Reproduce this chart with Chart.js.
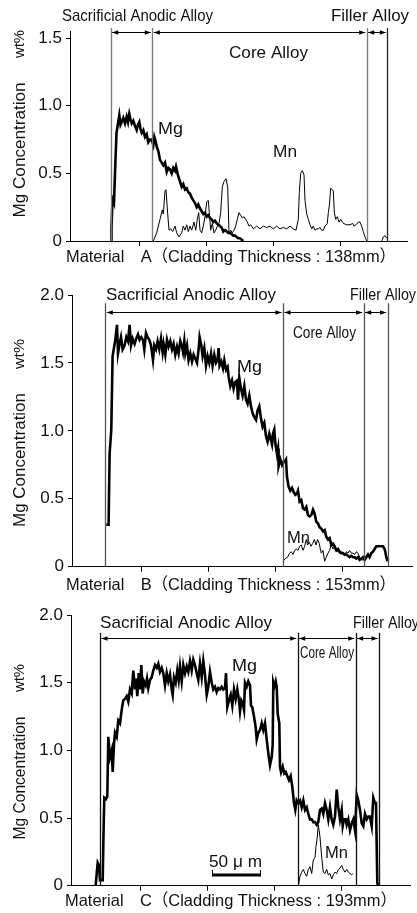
<!DOCTYPE html>
<html>
<head>
<meta charset="utf-8">
<script src="https://cdn.jsdelivr.net/npm/chart.js@4.4.0/dist/chart.umd.min.js"></script>
<style>
  body { margin: 0; background: #fff; width: 417px; height: 913px; overflow: hidden; position: relative; }
  canvas { position: absolute; left: 0; }
</style>
</head>
<body>
<canvas id="chartA" width="417" height="272" style="top:0px"></canvas>
<canvas id="chartB" width="417" height="326" style="top:272px"></canvas>
<canvas id="chartC" width="417" height="323" style="top:590px"></canvas>
<script>
// tick values
const yTicksA = [0, 0.5, 1.0, 1.5];
const yTicksBC = [0, 0.5, 1.0, 1.5, 2.0];
const xTicks = [69, 136, 203, 270];

// layer boundaries (x, um from surface axis)
const boundsA = [40.7, 82.3, 296.7, 317.3];
const boundsB = [33.3, 211, 291.6, 315.6];
const boundsC = [29, 226.7, 284.7, 308];

// Material A profiles [x, wt%]
const mgA = [[41,0],[41.5,0.10],[42.5,0.31],[44,0.28],[45,0.50],[46.5,0.80],[48,0.87],[49.3,0.93],[50.5,0.86],[51.7,0.88],
  [53.3,0.91],[55,0.87],[56.7,0.92],[58,0.88],[59.3,0.94],[60.5,0.90],[61.7,0.87],[63.3,0.89],[65,0.85],[66.7,0.82],
  [68,0.86],[69.3,0.88],[70.5,0.83],[71.7,0.80],[73.3,0.82],[75,0.77],[76.7,0.79],[78.3,0.73],[80,0.75],[81.7,0.75],
  [83.3,0.71],[84.3,0.77],[85.5,0.74],[86.7,0.70],[88.5,0.66],[90,0.60],[91.7,0.58],[93.3,0.56],[95,0.58],[96.7,0.51],
  [98.3,0.54],[100,0.53],[101.7,0.50],[103.3,0.54],[105,0.52],[106,0.55],[107.5,0.50],[108.3,0.48],[110,0.44],[111.7,0.40],
  [113.3,0.42],[115,0.38],[116.7,0.39],[118.3,0.36],[120,0.35],[121.7,0.32],[123.3,0.30],[125,0.28],[126.7,0.25],[128.3,0.27],
  [130,0.24],[131.7,0.22],[133.3,0.20],[135,0.21],[136.7,0.18],[138.3,0.19],[140,0.17],[141.7,0.16],[143.3,0.14],[145,0.15],
  [146.7,0.13],[148.3,0.12],[150,0.11],[151.7,0.10],[153.3,0.07],[155,0.08],[156.7,0.07],[158.3,0.06],[160,0.06],[161.7,0.05],
  [163.3,0.04],[165,0.04],[166.7,0.03],[168.3,0.02],[170,0.02],[171.7,0.01],[173.3,0]];
const mnA = [[83.3,0],[86.7,0.06],[90,0.16],[92.3,0.23],[93.3,0.20],[95,0.37],[96,0.38],[97.7,0.20],[99,0.08],[100.7,0.09],
  [102.7,0.07],[105,0.11],[106.7,0.06],[109,0.03],[111.7,0.06],[113.3,0.11],[115,0.08],[116.7,0.12],[118.3,0.07],[120,0.11],
  [121.7,0.08],[124,0.14],[125.7,0.08],[127.3,0.16],[128.7,0.21],[130,0.08],[131.7,0.06],[133.3,0.11],[135,0.18],[136.7,0.29],
  [138.3,0.30],[139.3,0.21],[140.7,0.08],[142.3,0.13],[144,0.06],[145.7,0.08],[147.3,0.11],[149,0.13],[150.7,0.21],[152.3,0.40],
  [154,0.44],[156,0.46],[157.7,0.40],[159,0.06],[160.7,0.08],[162.3,0.06],[164,0.08],[165.7,0.11],[167.3,0.16],[169,0.21],
  [170.7,0.19],[172.3,0.17],[174,0.18],[175.7,0.16],[177.3,0.14],[179,0.11],[180.7,0.12],[183.3,0.09],[186.7,0.11],[190,0.09],
  [193.3,0.11],[196.7,0.10],[200,0.11],[203.3,0.09],[206.7,0.11],[210,0.09],[213.3,0.10],[216.7,0.09],[220,0.11],[223.3,0.09],
  [226,0.08],[228.3,0.16],[229.3,0.36],[230.7,0.50],[232.3,0.52],[234,0.49],[235,0.30],[236.7,0.20],[238.3,0.16],[240,0.12],
  [241.7,0.09],[243.3,0.11],[245,0.08],[246.7,0.09],[248.3,0.09],[250,0.10],[251.7,0.08],[253.3,0.08],[255,0.11],[257.3,0.13],
  [258.3,0.21],[259.3,0.26],[260.7,0.39],[262.3,0.38],[263.3,0.37],[264.3,0.21],[265.7,0.16],[267.3,0.18],[269,0.14],[270.7,0.16],
  [273.3,0.13],[276.7,0.12],[280,0.12],[282.7,0.13],[284,0.11],[286,0.12],[288.3,0.14],[290,0.14],[291.7,0.11],[293.3,0.07],
  [295,0.03],[296.7,0],[304,null],[311.7,0],[313.3,0.03],[315,0.04],[316.7,0.02]];

// Material B profiles
const mgB = [[34.3,0.31],[36.6,0.31],[37.6,0.83],[39.3,1.01],[40.6,1.55],[43.3,1.67],[45,1.78],[46,1.57],[47.6,1.64],[49,1.69],
  [50.6,1.60],[52.6,1.63],[54.3,1.69],[56,1.66],[57.6,1.78],[59,1.63],[60.6,1.68],[62.6,1.64],[64.3,1.68],[66,1.71],
  [67.6,1.67],[69.3,1.69],[71,1.67],[72.3,1.60],[74,1.72],[75.6,1.69],[77.3,1.67],[79,1.63],[81,1.52],[82.3,1.63],
  [84,1.60],[85.6,1.66],[87.3,1.60],[89,1.68],[90.6,1.58],[91.6,1.64],[93.3,1.56],[95,1.67],[96.6,1.62],[98.3,1.66],
  [100,1.60],[101.6,1.64],[103.3,1.56],[105,1.62],[106.6,1.57],[108.3,1.66],[110,1.62],[111,1.58],[112.3,1.66],[113.3,1.57],
  [115,1.63],[116.6,1.52],[118.3,1.57],[120,1.51],[121.6,1.56],[123.3,1.53],[125,1.50],[126.6,1.60],[127.6,1.69],[129.3,1.63],
  [130.6,1.55],[132.3,1.61],[134,1.48],[135.6,1.55],[137.3,1.50],[139,1.57],[140.6,1.48],[142.3,1.56],[144,1.50],[145.6,1.52],
  [146.6,1.61],[147.6,1.48],[149.3,1.51],[151,1.46],[152.3,1.52],[154,1.45],[155.6,1.47],[156.6,1.40],[158.3,1.33],[160,1.37],
  [161.6,1.31],[163.3,1.36],[165,1.37],[166,1.23],[167.3,1.39],[169,1.31],[170.6,1.26],[172.3,1.33],[174,1.23],[175.6,1.20],
  [177.3,1.26],[179,1.18],[180.6,1.13],[182.3,1.10],[184,1.08],[185.6,1.15],[187.3,1.18],[189,1.09],[190.6,1.03],[192.3,1.06],
  [194,0.96],[195.6,0.92],[197.3,0.98],[199,0.93],[200,0.90],[201,0.98],[202.3,1.01],[203.3,0.91],[205,0.83],[206,0.87],
  [206.6,0.74],[208.3,0.79],[210,0.75],[211,0.77],[212.3,0.77],[214,0.79],[215,0.66],[216.6,0.59],[218.3,0.56],[220,0.58],
  [221.6,0.55],[223.3,0.53],[225,0.54],[226,0.56],[227.6,0.48],[229.3,0.49],[231,0.43],[232.6,0.42],[234.3,0.44],[236,0.38],
  [237.6,0.37],[239.3,0.38],[241,0.42],[242.6,0.39],[244.3,0.33],[246,0.32],[247.6,0.29],[249.3,0.28],[251,0.26],[252.6,0.27],
  [254.3,0.22],[256,0.20],[257.6,0.21],[259.3,0.16],[261,0.17],[262.6,0.15],[264.3,0.12],[266,0.13],[267.6,0.11],[269.3,0.10],
  [271,0.10],[272.6,0.09],[274.3,0.09],[276,0.08],[277.6,0.07],[279.3,0.08],[281,0.07],[282.6,0.07],[284.3,0.06],[286,0.07],
  [287.6,0.05],[289.3,0.06],[291,0.07],[292.6,0.05],[294.3,0.07],[296,0.09],[297.6,0.07],[299.3,0.10],[301,0.11],[302.6,0.13],
  [304.3,0.15],[306,0.15],[307.6,0.15],[309.3,0.15],[311,0.15],[312.6,0.13],[313.3,0.11],[314.3,0.07],[315.6,0.04]];
const mnB = [[211,0.04],[213.3,0.06],[215.6,0.07],[217.6,0.10],[219.3,0.11],[221,0.09],[222.6,0.12],[224.3,0.13],[226,0.12],[227.6,0.15],
  [229.3,0.16],[231,0.12],[232.6,0.15],[234.3,0.20],[235.6,0.16],[237.3,0.18],[239,0.15],[240.6,0.17],[242.3,0.20],[244,0.16],
  [245.6,0.20],[247.3,0.17],[248.3,0.13],[249.3,0.10],[251,0.12],[252.6,0.04],[254.3,0.07],[256,0.10],[257.6,0.12],[259.3,0.16],
  [261,0.13],[262.6,0.15],[264.3,0.12],[266,0.11],[267.6,0.10],[269.3,0.11],[271,0.09],[272.6,0.08],[274.3,0.11],[276,0.10],
  [277.6,0.12],[279.3,0.10],[281,0.10],[282.6,0.09],[284.3,0.11],[286,0.10],[287.6,0.07],[289.3,0.05],[291,0.05]];

// Material C profiles
const mgC = [[24.7,0],[25.7,0.09],[26.7,0.17],[28,0.15],[29,0.04],[30,0.04],[31.7,0.04],[32.7,0.46],[33.3,0.65],[35,0.64],
  [36.3,0.66],[37.3,1.10],[39,0.95],[40.7,1.00],[41.7,0.84],[43,1.05],[44,1.13],[45.7,1.10],[47.3,1.22],[49,1.20],
  [50.7,1.30],[52.3,1.37],[54,1.38],[55.7,1.40],[57.3,1.36],[59,1.45],[60.7,1.42],[62.3,1.59],[64,1.45],[65,1.53],
  [66.3,1.40],[67.7,1.57],[69,1.45],[70.3,1.63],[71.7,1.42],[73,1.51],[74.7,1.48],[76,1.53],[77.3,1.46],[79,1.52],
  [80.7,1.54],[82.3,1.59],[84,1.63],[85.7,1.61],[87.3,1.64],[89,1.58],[90.7,1.61],[92.3,1.57],[94,1.48],[95.7,1.57],
  [97.3,1.51],[99,1.56],[100.7,1.45],[101.7,1.41],[103,1.54],[104.7,1.50],[106.3,1.59],[107.7,1.52],[109,1.62],[110.7,1.51],
  [112.3,1.63],[114,1.57],[115.7,1.62],[117.3,1.58],[119,1.66],[120.7,1.59],[122.3,1.67],[124,1.63],[125.7,1.57],[127.3,1.52],
  [129,1.64],[130.7,1.54],[132.3,1.66],[134,1.56],[135.7,1.41],[137.3,1.47],[139,1.58],[140.7,1.50],[142.3,1.45],[144,1.47],
  [145.7,1.43],[147.3,1.46],[149,1.45],[150.7,1.47],[152.3,1.45],[154,1.46],[155,1.57],[156.3,1.32],[158,1.37],[159.7,1.41],
  [161.3,1.33],[163,1.45],[164.7,1.38],[166.3,1.45],[168,1.37],[169,1.29],[170.3,1.37],[171.7,1.35],[173,1.30],[174,1.50],
  [175.7,1.47],[177.3,1.51],[179,1.48],[180,1.33],[181.3,1.32],[183,1.25],[184.7,1.17],[185.7,1.08],[187.3,1.13],[189,1.15],
  [190.7,1.20],[192.3,1.15],[194,1.20],[195.7,1.08],[197.3,0.98],[199,0.89],[200.7,0.95],[201.7,1.04],[202.3,1.50],[203.3,1.47],
  [204.7,1.51],[205.7,1.47],[206.7,1.27],[208.3,1.20],[209,0.88],[210,0.84],[211.7,0.88],[213.3,0.83],[214.7,0.84],[216.3,0.81],
  [218,0.78],[219.7,0.81],[221.3,0.73],[223,0.61],[224.3,0.56],[225.7,0.63],[227.3,0.61],[229,0.63],[230.7,0.58],[232.3,0.63],
  [234,0.56],[235.7,0.58],[237.3,0.53],[239,0.49],[240.7,0.49],[242.3,0.47],[244,0.47],[245.7,0.45],[247.3,0.47],[249,0.56],
  [250.7,0.57],[252.3,0.53],[254,0.61],[255.7,0.56],[257.3,0.49],[259,0.58],[260.7,0.49],[262.3,0.45],[264,0.51],[265.7,0.71],
  [267.3,0.58],[269,0.49],[270.7,0.56],[271.7,0.44],[273,0.49],[274.7,0.49],[275.7,0.45],[277.3,0.49],[279,0.41],[280.7,0.46],
  [282.3,0.49],[284,0.41],[285.7,0.67],[287.3,0.63],[289,0.56],[290.7,0.46],[292.3,0.44],[294,0.53],[295.7,0.49],[297.3,0.51],
  [299,0.51],[300.7,0.44],[302.3,0.65],[304,0.61],[305,0.61],[306.3,0.02],[307.3,0]];
const mnC = [[227.3,0],[229,0.07],[230.7,0.10],[232.3,0.12],[234,0.09],[235.7,0.07],[237.3,0.12],[239,0.14],[240.7,0.09],[242.3,0.19],
  [244,0.21],[245,0.29],[246.3,0.36],[247.3,0.45],[249,0.36],[250.7,0.21],[252.3,0.10],[254,0.09],[255.7,0.12],[257.3,0.08],
  [259,0.09],[260.7,0.05],[262.3,0.08],[264,0.10],[265.7,0.09],[267.3,0.12],[269,0.13],[270.7,0.15],[272.3,0.12],[274,0.10],
  [275.7,0.12],[277.3,0.10],[279,0.09],[280.7,0.08],[281.7,0.09]];

const FONT = '"Liberation Sans", Arial, "Noto Sans CJK JP", sans-serif';
Chart.defaults.font.family = FONT;

// draw text squeezed/stretched horizontally to a target width
function fitText(ctx, t, cx, cy, size, w, rot) {
  ctx.save();
  ctx.font = size + 'px ' + FONT;
  ctx.fillStyle = '#111';
  ctx.textAlign = 'center';
  ctx.textBaseline = 'middle';
  const mw = ctx.measureText(t).width;
  const sx = w ? w / mw : 1;
  ctx.translate(cx, cy);
  if (rot) ctx.rotate(-Math.PI / 2);
  ctx.scale(sx, 1);
  ctx.fillText(t, 0, 0);
  ctx.restore();
}

function arrowHead(ctx, x, y, dir) {
  ctx.beginPath();
  ctx.moveTo(x, y);
  ctx.lineTo(x - dir * 6, y - 2.2);
  ctx.lineTo(x - dir * 6, y + 2.2);
  ctx.closePath();
  ctx.fill();
}

function layersPlugin(cfg) {
  return {
    id: 'layers',
    afterDraw(chart) {
      const { ctx, scales: { x, y } } = chart;
      ctx.save();
      // layer boundary lines
      cfg.bounds.forEach((b, i) => {
        const px = Math.round(x.getPixelForValue(b)) + 0.5;
        ctx.strokeStyle = cfg.boundColors[i];
        ctx.lineWidth = 1.3;
        ctx.beginPath();
        ctx.moveTo(px, y.getPixelForValue(cfg.lineTop));
        ctx.lineTo(px, y.getPixelForValue(0));
        ctx.stroke();
      });
      // double arrows between boundaries
      const ay = Math.round(y.getPixelForValue(cfg.arrowY)) + 0.5;
      ctx.strokeStyle = '#000';
      ctx.fillStyle = '#000';
      ctx.lineWidth = 1;
      for (let i = 0; i < cfg.bounds.length - 1; i++) {
        const x0 = x.getPixelForValue(cfg.bounds[i]) + 1.5;
        const x1 = x.getPixelForValue(cfg.bounds[i + 1]) - 1.5;
        ctx.beginPath();
        ctx.moveTo(x0, ay);
        ctx.lineTo(x1, ay);
        ctx.stroke();
        arrowHead(ctx, x0, ay, -1);
        arrowHead(ctx, x1, ay, 1);
      }
      // scale bar
      if (cfg.scaleBar) {
        const sb = cfg.scaleBar;
        const bx0 = x.getPixelForValue(sb.start);
        const bx1 = x.getPixelForValue(sb.start + sb.length);
        const by = y.getPixelForValue(sb.y);
        ctx.lineWidth = 3;
        ctx.beginPath();
        ctx.moveTo(bx0, by);
        ctx.lineTo(bx1, by);
        ctx.stroke();
        ctx.lineWidth = 1;
        ctx.beginPath();
        ctx.moveTo(bx0 + 0.5, by); ctx.lineTo(bx0 + 0.5, by - 5);
        ctx.moveTo(bx1 - 0.5, by); ctx.lineTo(bx1 - 0.5, by - 5);
        ctx.stroke();
      }
      ctx.restore();
      cfg.texts.forEach(t => fitText(ctx, t.t, t.cx, t.cy - cfg.top, t.size || 17, t.w, t.rot));
    }
  };
}

function makePanel(id, cfg) {
  const toPts = arr => arr.map(p => ({ x: p[0], y: p[1] }));
  new Chart(document.getElementById(id).getContext('2d'), {
    type: 'line',
    data: {
      datasets: [
        { label: 'Mg', data: toPts(cfg.mg), borderColor: '#000', borderWidth: 2.6, pointRadius: 0, tension: 0, spanGaps: false, clip: 4 },
        { label: 'Mn', data: toPts(cfg.mn), borderColor: '#000', borderWidth: 1, pointRadius: 0, tension: 0, spanGaps: false, clip: 4 }
      ]
    },
    options: {
      responsive: false,
      animation: false,
      events: [],
      layout: { padding: { top: cfg.padTop, right: cfg.padRight, left: 0, bottom: 0 } },
      plugins: { legend: { display: false }, tooltip: { enabled: false } },
      scales: {
        x: {
          type: 'linear', min: 0, max: cfg.xMax,
          afterBuildTicks: s => { s.ticks = xTicks.map(v => ({ value: v })); },
          afterFit: s => { s.height = cfg.bottomH; },
          ticks: { display: false },
          grid: { drawOnChartArea: false, drawTicks: true, tickLength: 5, color: '#000', lineWidth: 1 },
          border: { display: true, color: '#000', width: 1 }
        },
        y: {
          type: 'linear', min: 0, max: cfg.yMax,
          afterBuildTicks: s => { s.ticks = cfg.yTicks.map(v => ({ value: v })); },
          afterFit: s => { s.width = cfg.left; },
          ticks: {
            callback: v => v === 0 ? '0' : v.toFixed(1),
            font: { size: 17, family: FONT }, color: '#111', padding: 4
          },
          grid: { drawOnChartArea: false, drawTicks: true, tickLength: 4, color: '#000', lineWidth: 1 },
          border: { display: true, color: '#000', width: 1 }
        }
      }
    },
    plugins: [layersPlugin(cfg)]
  });
}

makePanel('chartA', {
  top: 0, mg: mgA, mn: mnA, yTicks: yTicksA, yMax: 1.55, xMax: 337,
  left: 70, padTop: 31.4, padRight: 10, bottomH: 31,
  bounds: boundsA, boundColors: ['#7a7a7a', '#7a7a7a', '#7a7a7a', '#222'], lineTop: 1.575, arrowY: 1.544,
  texts: [
    { t: 'Sacrificial Anodic Alloy', cx: 137.5, cy: 16, w: 151 },
    { t: 'Filler Alloy', cx: 370, cy: 16, w: 78 },
    { t: 'Core Alloy', cx: 268.5, cy: 53, w: 79 },
    { t: 'Mg', cx: 170.5, cy: 129, w: 25 },
    { t: 'Mn', cx: 285, cy: 152, w: 24 },
    { t: 'Material\u3000A\uFF08Cladding Thickness : 138mm\uFF09', cx: 231, cy: 257, w: 330, size: 16.5 },
    { t: 'Mg Concentration', cx: 20, cy: 150, w: 135, rot: true },
    { t: 'wt%', cx: 20, cy: 44, w: 28, size: 15, rot: true }
  ]
});

makePanel('chartB', {
  top: 272, mg: mgB, mn: mnB, yTicks: yTicksBC, yMax: 2.0, xMax: 340,
  left: 72, padTop: 23, padRight: 5, bottomH: 31.3,
  bounds: boundsB, boundColors: ['#555', '#555', '#555', '#555'], lineTop: 1.94, arrowY: 1.873,
  texts: [
    { t: 'Sacrificial Anodic Alloy', cx: 191, cy: 295, w: 170 },
    { t: 'Filler Alloy', cx: 383, cy: 295, w: 66 },
    { t: 'Core Alloy', cx: 324.5, cy: 333, w: 63 },
    { t: 'Mg', cx: 249.5, cy: 367, w: 25 },
    { t: 'Mn', cx: 298.5, cy: 538, w: 23 },
    { t: 'Material\u3000B\uFF08Cladding Thickness : 153mm\uFF09', cx: 231, cy: 585, w: 330, size: 16.5 },
    { t: 'Mg Concentration', cx: 20, cy: 460, w: 134, rot: true },
    { t: 'wt%', cx: 20, cy: 354, w: 30, size: 15, rot: true }
  ]
});

makePanel('chartC', {
  top: 590, mg: mgC, mn: mnC, yTicks: yTicksBC, yMax: 2.0, xMax: 339,
  left: 71, padTop: 25, padRight: 7, bottomH: 27.3,
  bounds: boundsC, boundColors: ['#111', '#111', '#111', '#111'], lineTop: 1.868, arrowY: 1.83,
  scaleBar: { start: 141, length: 49, y: 0.079 },
  texts: [
    { t: 'Sacrificial Anodic Alloy', cx: 186, cy: 623, w: 172 },
    { t: 'Filler Alloy', cx: 386, cy: 623, w: 66 },
    { t: 'Core Alloy', cx: 327, cy: 653, w: 54 },
    { t: 'Mg', cx: 244.5, cy: 666, w: 25 },
    { t: 'Mn', cx: 336.5, cy: 853, w: 23 },
    { t: '50 \u03BC m', cx: 235.5, cy: 862, w: 53 },
    { t: 'Material\u3000C\uFF08Cladding Thickness : 193mm\uFF09', cx: 231, cy: 901.7, w: 332, size: 16.5 },
    { t: 'Mg Concentration', cx: 20, cy: 778, w: 123, rot: true },
    { t: 'wt%', cx: 20, cy: 678, w: 28, size: 15, rot: true }
  ]
});
</script>
</body>
</html>
